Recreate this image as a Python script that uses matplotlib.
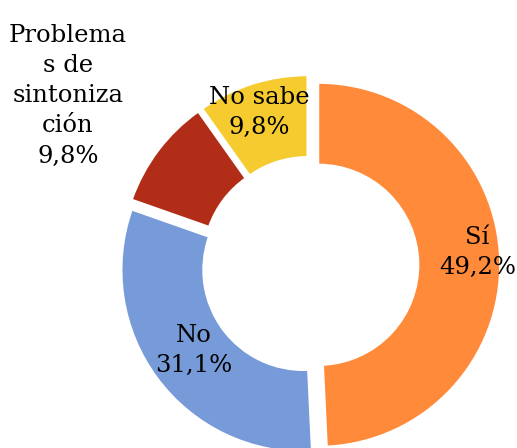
import matplotlib.pyplot as plt

# datos del gráfico
categorias = ['Sí', 'No', 'Problemas de sintonización', 'No sabe']
porcentajes = [49.2, 31.1, 9.8, 9.8]
colores = ['#FF8A3A', '#779AD8', '#B22D17', '#F5CB30']
etiquetas = ['Sí\n49,2%', 'No\n31,1%', 'Problema\ns de\nsintoniza\nción\n9,8%', 'No sabe\n9,8%']

plt.rcParams['font.family'] = ['DejaVu Serif']

fig = plt.figure(figsize=(5.17, 4.48), dpi=100)
ax = fig.add_axes([0, 0, 1, 1])

ax.pie(porcentajes, colors=colores, startangle=90, counterclock=False,
       radius=1.0, explode=[0.045] * 4,
       wedgeprops=dict(width=0.45, edgecolor='white', linewidth=1.5))

# posiciones de las etiquetas
pos = [(0.92, 0.07), (-0.64, -0.47), (-1.33, 0.93), (-0.28, 0.84)]
for (x, y), txt in zip(pos, etiquetas):
    ax.text(x, y, txt, ha='center', va='center', fontsize=17.5,
            linespacing=1.4, color='black')

ax.set_xlim(-310 / 182, (517 - 310) / 182)
ax.set_ylim(-183 / 182, 265 / 182)
ax.set_aspect('auto')
ax.axis('off')

plt.savefig('out.png', dpi=100)
